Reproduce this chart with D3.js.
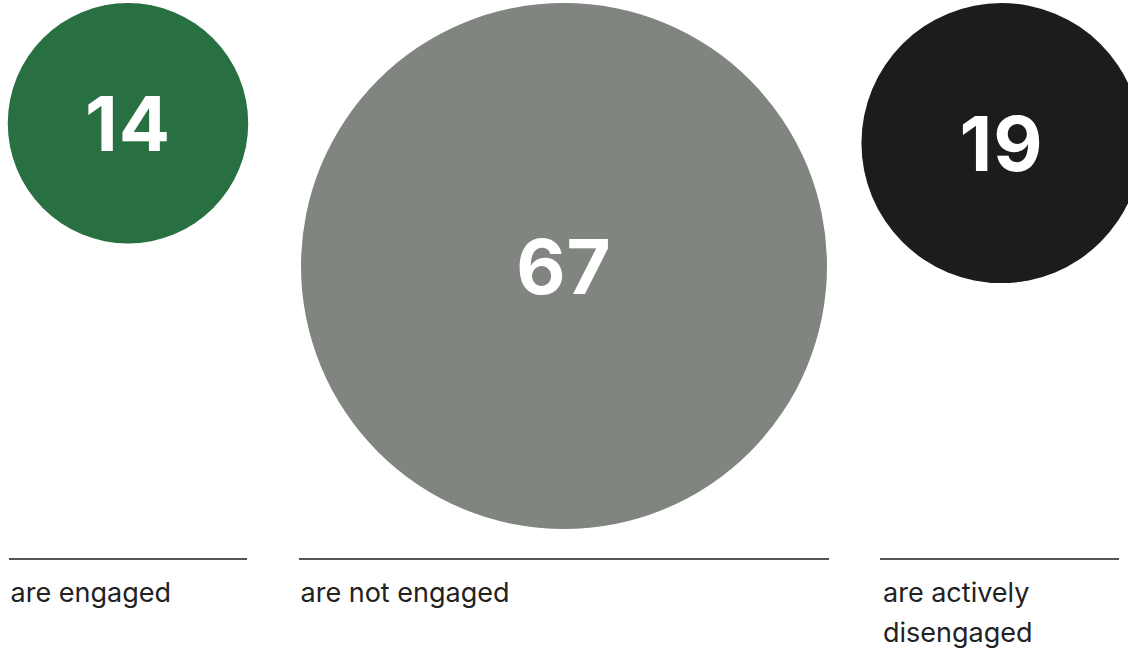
<!DOCTYPE html>
<html>
<head>
<meta charset="utf-8">
<script src="https://cdn.jsdelivr.net/npm/d3@7"></script>
<style>
    body { margin: 0; background: #fff; }
    svg { display: block; }
</style>
</head>
<body>
<div id="vis"></div>
<script>
// data
var categories = ["engaged", "not engaged", "actively disengaged"];
var values = [14, 67, 19];
var labels = [["are engaged"], ["are not engaged"], ["are actively", "disengaged"]];
var colors = ["#286f42", "#818580", "#1c1c1c"];

// layout
var width = 1128;
var height = 656;
var colX = [9, 299, 880];
var colW = [238, 530, 239];
var circleTop = 3;
var ruleY = 559;
var labelY = 602;
var lineHeight = 40;

var svgElement = d3.select('#vis').append('svg')
    .attr('width', width)
    .attr('height', height);

var r = d3.scaleSqrt()
    .domain([0, d3.max(values)])
    .range([0, 263]);

var groups = svgElement.selectAll('g.col')
    .data(values)
    .enter()
    .append('g')
    .attr('class', 'col')
    .attr('transform', function (d, i) { return 'translate(' + colX[i] + ',0)'; });

groups.append('circle')
    .attr('cx', function (d, i) { return colW[i] / 2 + (i == 2 ? 2 : 0); })
    .attr('cy', function (d) { return circleTop + r(d); })
    .attr('r', function (d) { return r(d); })
    .attr('fill', function (d, i) { return colors[i]; });

groups.append('text')
    .attr('x', function (d, i) { return colW[i] / 2 + (i == 2 ? 2 : 0); })
    .attr('y', function (d) { return circleTop + r(d) + 28; })
    .attr('text-anchor', 'middle')
    .attr('fill', '#fff')
    .style('font-family', 'Inter, sans-serif')
    .style('font-weight', 700)
    .style('font-size', '76px')
    .style('letter-spacing', '1px')
    .text(function (d) { return d; });

groups.append('line')
    .attr('x1', 0)
    .attr('x2', function (d, i) { return colW[i]; })
    .attr('y1', ruleY)
    .attr('y2', ruleY)
    .attr('stroke', '#1c1c1c')
    .attr('stroke-width', 1.6);

groups.each(function (d, i) {
    var t = d3.select(this).append('text')
        .attr('y', labelY)
        .attr('fill', '#222')
        .style('font-family', 'Inter, sans-serif')
        .style('font-size', '27px');
    labels[i].forEach(function (line, k) {
        t.append('tspan')
            .attr('x', i == 2 ? 3 : 1.5)
            .attr('dy', k == 0 ? 0 : lineHeight)
            .text(line);
    });
});
</script>
</body>
</html>
